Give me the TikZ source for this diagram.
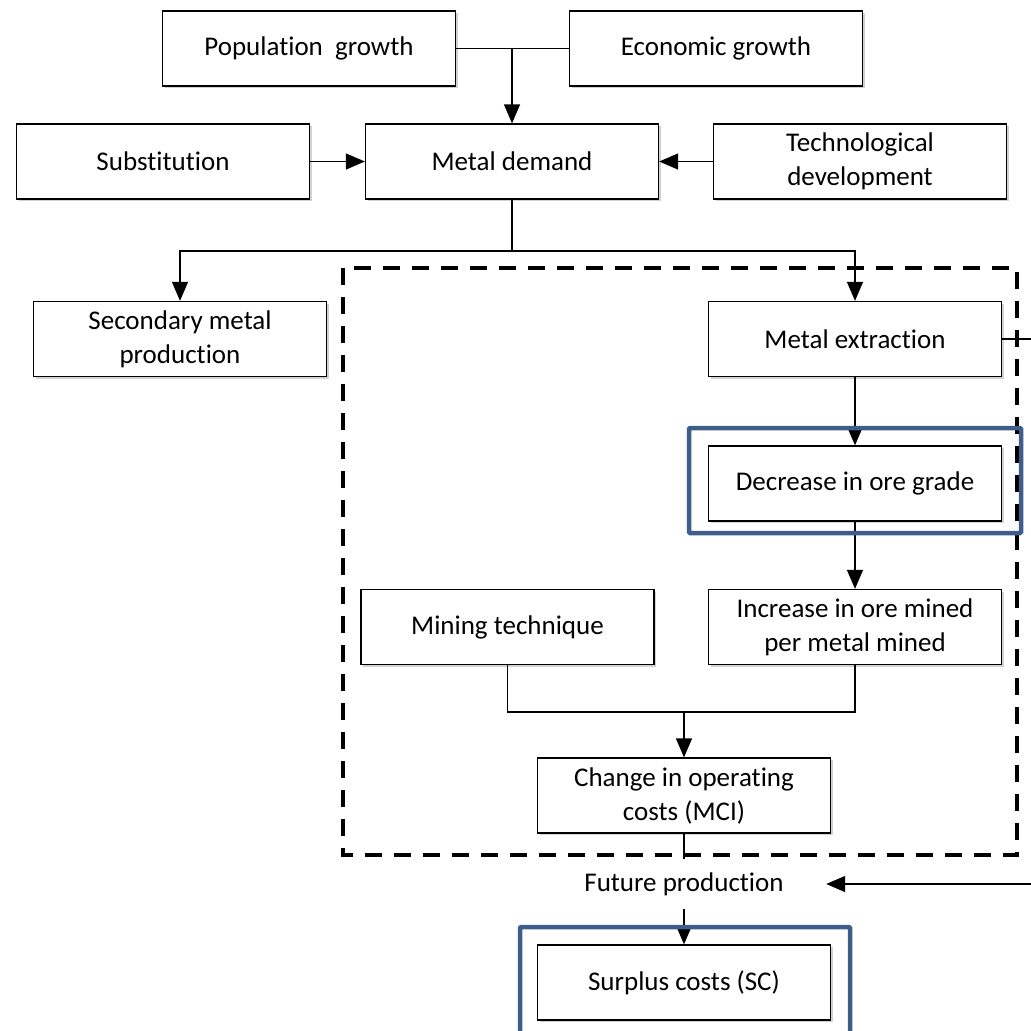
\documentclass[tikz,border=0pt]{standalone}
\usepackage{fontspec}
\setmainfont{Carlito}[Ligatures=NoCommon]
\usetikzlibrary{arrows.meta,shadows}
\definecolor{frameblue}{RGB}{61,94,139}
\tikzset{
  factor/.style={draw, line width=1.3pt, fill=white, minimum width=293pt, minimum height=75pt,
    align=center, inner sep=0pt, font=\fontsize{27}{34}\selectfont,
    drop shadow={shadow xshift=2pt, shadow yshift=-2pt, opacity=0.3, fill=black!60}},
  link/.style={line width=1.3pt},
  flow/.style={link, -{Triangle[length=19pt, width=16pt]}},
}

\begin{document}
\begin{tikzpicture}[x=1pt, y=-1pt]
			%%%%% START %%%%%
			\useasboundingbox (0,0) rectangle (1031,1031);
			
			% drivers of demand
			\node[factor] (pop) at (309, 48.5) {Population\ \ growth};
			\node[factor] (econ) at (716, 48.5) {Economic growth};
			\node[factor] (subst) at (163, 161.5) {Substitution};
			\node[factor] (demand) at (512, 161.5) {Metal demand};
			\node[factor] (tech) at (860, 161.5) {Technological\\development};
			
			% supply side
			\node[factor] (second) at (180, 339) {Secondary metal\\production};
			\node[factor] (extract) at (855, 339) {Metal extraction};
			\node[factor] (decrease) at (855, 483.5) {Decrease in ore grade};
			\node[factor] (mining) at (507.5, 627) {Mining technique};
			\node[factor] (increase) at (855, 627) {Increase in ore mined\\per metal mined};
			\node[factor] (change) at (684, 795.5) {Change in operating\\costs (MCI)};
			\node[minimum width=284pt, minimum height=50pt, inner sep=0pt,
			      font=\fontsize{27}{34}\selectfont] (future) at (684, 884) {Future production};
			\node[factor] (surplus) at (684, 982.5) {Surplus costs (SC)};
			
			\coordinate (fork) at (512, 251);
			\coordinate (merge) at (684, 712);
			\coordinate (rim) at (1037, 884);
			
			\draw[link] (pop) -- (econ);
			\draw[flow] (demand.north |- pop.east) -- (demand.north);
			\draw[flow] (subst) -- (demand);
			\draw[flow] (tech) -- (demand);
			
			\draw[link] (demand.south) -- (fork);
			\draw[flow] (fork) -| (second.north);
			\draw[flow] (fork) -| (extract.north);
			
			\draw[flow] (extract) -- (decrease);
			\draw[flow] (decrease) -- (increase);
			\draw[link] (mining.south) |- (merge) -| (increase.south);
			\draw[flow] (merge) -- (change.north);
			\draw[link] (change) -- (future);
			\draw[flow] (future) -- (surplus);
			
			\draw[link] (extract.east) -| (rim);
			\draw[flow] (rim) -- (future.east);
			
			% frames
			\draw[line width=4.5pt, dash pattern=on 17pt off 12pt] (343, 268) rectangle (1017, 855);
			\draw[frameblue, line width=4.5pt, rounded corners=1pt] (689, 428) rectangle (1021, 533);
			\draw[frameblue, line width=4.5pt, rounded corners=1pt] (520, 927) rectangle (850, 1045);
			
			%%%%% END %%%%%
\end{tikzpicture}
\end{document}
